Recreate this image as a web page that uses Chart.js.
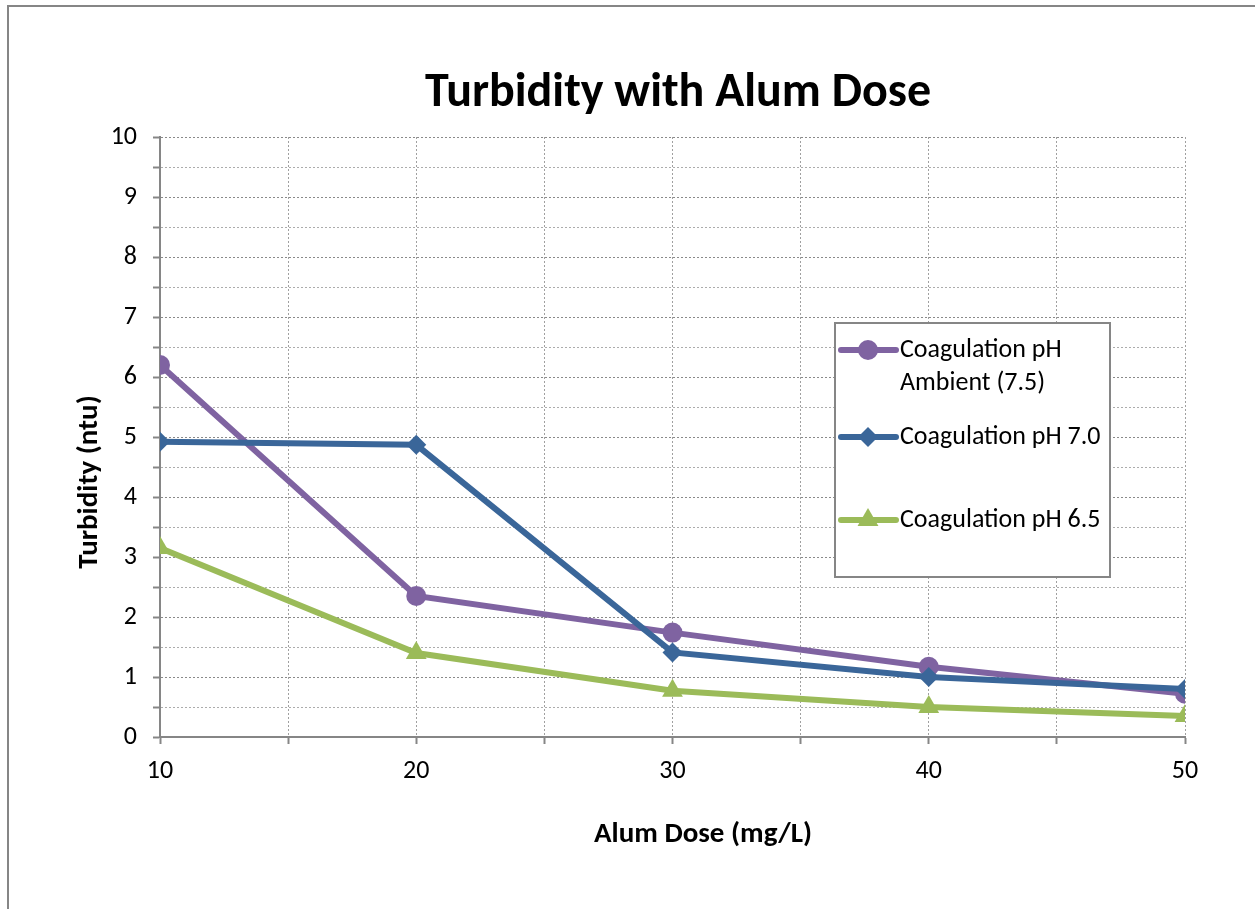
<!DOCTYPE html>
<html>
<head>
<meta charset="utf-8">
<script src="https://cdn.jsdelivr.net/npm/chart.js@4.4.1/dist/chart.umd.min.js"></script>
<style>
  html, body { margin: 0; padding: 0; background: #fff; }
  #wrap { width: 1255px; height: 909px; }
</style>
</head>
<body>
<div id="wrap"><canvas id="chartContainer" width="1255" height="909"></canvas></div>
<script>
// chart data
const doses = [10, 20, 30, 40, 50];
const phAmbient = [6.2, 2.35, 1.74, 1.17, 0.72];
const ph70 = [4.92, 4.87, 1.41, 1.0, 0.8];
const ph65 = [3.15, 1.4, 0.77, 0.5, 0.35];
const seriesLabels = ["Coagulation pH Ambient (7.5)", "Coagulation pH 7.0", "Coagulation pH 6.5"];
const xTickLabels = [10, 20, 30, 40, 50];
const yTickLabels = [0, 1, 2, 3, 4, 5, 6, 7, 8, 9, 10];

const titleText = "Turbidity with Alum Dose";
const xTitle = "Alum Dose (mg/L)";
const yTitle = "Turbidity (ntu)";

const FONT = "Carlito, Lato, 'Open Sans', sans-serif";
const AXIS_GREY = "#868686";

const colors = ["#7F63A1", "#3A6699", "#9BBB59"];
const styles = ["circle", "rectRot", "triangle"];
const radii = [10, 10, 12];

function toPoints(vals) {
  return vals.map((v, i) => ({ x: doses[i], y: v }));
}

const data = {
  datasets: [phAmbient, ph70, ph65].map((vals, i) => ({
    label: seriesLabels[i],
    data: toPoints(vals),
    borderColor: colors[i],
    backgroundColor: colors[i],
    borderWidth: 6,
    pointStyle: styles[i],
    pointRadius: radii[i],
    pointBorderWidth: 0,
    pointBackgroundColor: colors[i],
    tension: 0,
    order: 3 - i, // later series on top, like excel
  })),
};

// frame, title, axis titles and the boxed legend
const decorPlugin = {
  id: "decor",
  beforeDraw(chart) {
    const ctx = chart.ctx;
    ctx.save();
    ctx.fillStyle = "#fff";
    ctx.fillRect(0, 0, chart.width, chart.height);
    ctx.strokeStyle = AXIS_GREY;
    ctx.lineWidth = 2;
    ctx.beginPath();
    ctx.moveTo(8, chart.height + 5);
    ctx.lineTo(8, 6);
    ctx.lineTo(chart.width + 5, 6);
    ctx.stroke();
    ctx.restore();
  },
  afterDraw(chart) {
    const ctx = chart.ctx;
    const a = chart.chartArea;
    ctx.save();
    ctx.fillStyle = "#000";
    ctx.textAlign = "center";
    ctx.textBaseline = "middle";
    ctx.font = "bold 48px " + FONT;
    ctx.fillText(titleText, 678, 94);

    ctx.font = "bold 29px " + FONT;
    ctx.fillText(xTitle, 703, 835);
    ctx.save();
    ctx.translate(90, 482);
    ctx.rotate(-Math.PI / 2);
    ctx.fillText(yTitle, 0, 0);
    ctx.restore();

    // legend box
    const bx = a.left + 675, by = a.top + 186, bw = 275, bh = 254;
    ctx.fillStyle = "#fff";
    ctx.fillRect(bx, by, bw, bh);
    ctx.strokeStyle = AXIS_GREY;
    ctx.lineWidth = 2;
    ctx.strokeRect(bx, by, bw, bh);

    ctx.font = "26px " + FONT;
    ctx.textAlign = "left";
    const rowY = [by + 27, by + 114, by + 197];
    const textX = bx + 65;
    chart.data.datasets.forEach((ds, i) => {
      const y = rowY[i];
      ctx.strokeStyle = ds.borderColor;
      ctx.lineWidth = 6;
      ctx.lineCap = "round";
      ctx.beginPath();
      ctx.moveTo(bx + 6, y);
      ctx.lineTo(bx + 61, y);
      ctx.stroke();
      drawMarker(ctx, ds.pointStyle, bx + 33, y, ds.pointRadius, ds.borderColor);
      // wrap text to fit box
      const words = ds.label.split(" ");
      const lines = [];
      let cur = "";
      words.forEach(w => {
        const t = cur ? cur + " " + w : w;
        if (ctx.measureText(t).width > bw - 62 && cur) { lines.push(cur); cur = w; }
        else cur = t;
      });
      lines.push(cur);
      ctx.fillStyle = "#000";
      lines.forEach((ln, k) => ctx.fillText(ln, textX, y + k * 33));
    });
    ctx.restore();
  },
};

function drawMarker(ctx, style, x, y, r, color) {
  ctx.fillStyle = color;
  ctx.beginPath();
  if (style === "circle") {
    ctx.arc(x, y, r, 0, Math.PI * 2);
  } else if (style === "rectRot") {
    ctx.moveTo(x, y - r); ctx.lineTo(x + r, y); ctx.lineTo(x, y + r); ctx.lineTo(x - r, y);
  } else {
    ctx.moveTo(x, y - r); ctx.lineTo(x + r * 0.87, y + r * 0.5); ctx.lineTo(x - r * 0.87, y + r * 0.5);
  }
  ctx.closePath();
  ctx.fill();
}

const config = {
  type: "line",
  data: data,
  options: {
    responsive: false,
    animation: false,
    layout: { padding: { top: 137, right: 70, left: 0, bottom: 0 } },
    scales: {
      x: {
        type: "linear",
        min: 10,
        max: 50,
        afterFit(scale) { scale.height = 172; },
        ticks: {
          stepSize: 5,
          padding: 12,
          color: "#000",
          font: { family: FONT, size: 26 },
          callback: v => (xTickLabels.includes(v) ? v : ""),
          maxRotation: 0,
          autoSkip: false,
        },
        grid: {
          color: "#a0a0a0",
          lineWidth: 1,
          tickLength: 7,
          tickColor: AXIS_GREY,
          tickWidth: 2,
          tickBorderDash: [],
        },
        border: { display: true, color: AXIS_GREY, width: 2, dash: [2, 2] },
      },
      y: {
        min: 0,
        max: 10,
        afterFit(scale) { scale.width = 160; },
        ticks: {
          stepSize: 0.5,
          padding: 16,
          color: "#000",
          font: { family: FONT, size: 26 },
          callback: v => (yTickLabels.includes(v) ? v : ""),
          autoSkip: false,
        },
        grid: {
          color: ctx => (Number.isInteger(ctx.tick && ctx.tick.value) ? "#8a8a8a" : "#acacac"),
          lineWidth: 1,
          tickLength: 7,
          tickColor: AXIS_GREY,
          tickWidth: 2,
          tickBorderDash: [],
        },
        border: { display: true, color: AXIS_GREY, width: 2, dash: [2, 2] },
      },
    },
    plugins: {
      legend: { display: false },
      title: { display: false },
      tooltip: { enabled: false },
    },
  },
  plugins: [decorPlugin],
};

const ctx = document.getElementById("chartContainer").getContext("2d");
const turbidityChart = new Chart(ctx, config);
</script>
</body>
</html>
